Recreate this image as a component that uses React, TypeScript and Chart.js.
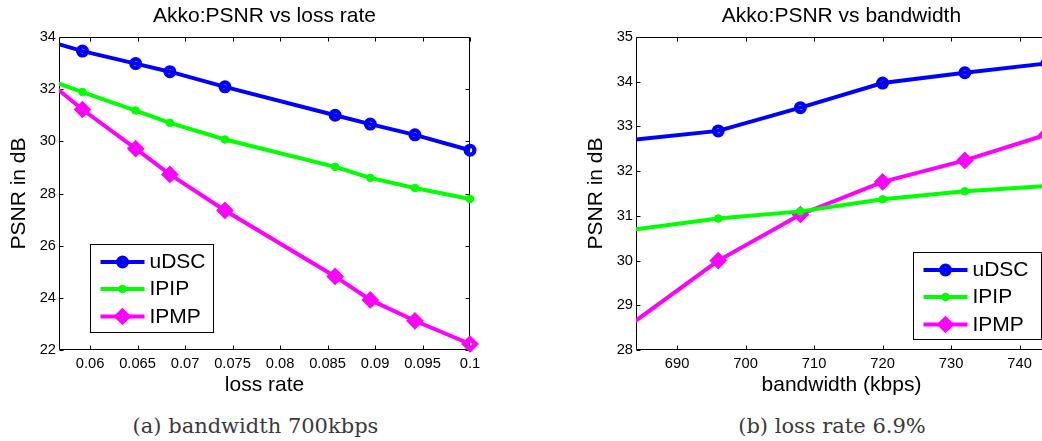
import React, { useEffect, useRef } from 'react';
import { Chart, registerables } from 'chart.js';

Chart.register(...registerables);

// ---------- data: chart (a) PSNR vs loss rate ----------
const lossRate = [0.05, 0.0592, 0.0648, 0.0684, 0.0742, 0.0858, 0.0895, 0.0942, 0.1];
const lossUDSC = [34.44, 33.46, 32.98, 32.67, 32.09, 31.0, 30.66, 30.25, 29.66];
const lossIPIP = [33.1, 31.89, 31.18, 30.71, 30.07, 29.02, 28.6, 28.21, 27.79];
const lossIPMP = [33.97, 31.22, 29.72, 28.73, 27.35, 24.82, 23.92, 23.12, 22.23];
const lossXTicks = [0.06, 0.065, 0.07, 0.075, 0.08, 0.085, 0.09, 0.095, 0.1];
const lossXTickLabels = ['0.06', '0.065', '0.07', '0.075', '0.08', '0.085', '0.09', '0.095', '0.1'];
const lossYTicks = [22, 24, 26, 28, 30, 32, 34];

// ---------- data: chart (b) PSNR vs bandwidth ----------
const bandwidth = [672, 696, 708, 720, 732, 744];
const bwUDSC = [32.52, 32.9, 33.42, 33.97, 34.2, 34.41];
const bwIPIP = [30.46, 30.94, 31.1, 31.37, 31.55, 31.67];
const bwIPMP = [27.32, 30.0, 31.03, 31.76, 32.24, 32.82];
const bwXTicks = [690, 700, 710, 720, 730, 740];
const bwXTickLabels = ['690', '700', '710', '720', '730', '740'];
const bwYTicks = [28, 29, 30, 31, 32, 33, 34, 35];

const seriesNames = ['uDSC', 'IPIP', 'IPMP'];

const SANS = "'Liberation Sans', Arial, sans-serif";

const seriesStyles = [
  { color: '#0000ff', pointStyle: 'circle', radius: 4.4, pbw: 4.2, fill: 'rgba(0,0,0,0)' },
  { color: '#00ff00', pointStyle: 'circle', radius: 3.8, pbw: 1, fill: '#00ff00' },
  { color: '#ff00ff', pointStyle: 'rectRot', radius: 5.6, pbw: 4.6, fill: 'rgba(0,0,0,0)' },
];

const toPoints = (xs: number[], ys: number[]) => xs.map((x, i) => ({ x, y: ys[i] }));

const makeDatasets = (xs: number[], series: number[][]) =>
  series.map((ys, i) => {
    const s = seriesStyles[i];
    return {
      label: seriesNames[i],
      data: toPoints(xs, ys),
      borderColor: s.color,
      backgroundColor: s.color,
      borderWidth: 4,
      pointStyle: s.pointStyle,
      pointRadius: s.radius,
      pointBorderWidth: s.pbw,
      pointBorderColor: s.color,
      pointBackgroundColor: s.fill,
      tension: 0,
      clip: { left: 0, top: 10, right: 10, bottom: 10 },
    };
  });

// MATLAB-like axes box with inward ticks on all four sides
const framePlugin = {
  id: 'matlabFrame',
  beforeDatasetsDraw(chart: any) {
    const { ctx, chartArea, scales } = chart;
    const L = Math.round(chartArea.left) + 0.5;
    const R = Math.round(chartArea.right) - 0.5;
    const T = Math.round(chartArea.top) + 0.5;
    const B = Math.round(chartArea.bottom) - 0.5;
    const tl = 4;
    ctx.save();
    ctx.strokeStyle = '#000';
    ctx.lineWidth = 1;
    ctx.beginPath();
    ctx.rect(L, T, R - L, B - T);
    scales.x.ticks.forEach((t: any) => {
      const px = Math.round(scales.x.getPixelForValue(t.value)) + 0.5;
      ctx.moveTo(px, B);
      ctx.lineTo(px, B - tl);
      ctx.moveTo(px, T);
      ctx.lineTo(px, T + tl);
    });
    scales.y.ticks.forEach((t: any) => {
      const py = Math.round(scales.y.getPixelForValue(t.value)) + 0.5;
      ctx.moveTo(L, py);
      ctx.lineTo(L + tl, py);
      ctx.moveTo(R, py);
      ctx.lineTo(R - tl, py);
    });
    ctx.stroke();
    ctx.restore();
  },
};

function drawMarker(ctx: CanvasRenderingContext2D, style: string, x: number, y: number, r: number) {
  ctx.beginPath();
  if (style === 'rectRot') {
    ctx.moveTo(x - r, y);
    ctx.lineTo(x, y - r);
    ctx.lineTo(x + r, y);
    ctx.lineTo(x, y + r);
    ctx.closePath();
  } else {
    ctx.arc(x, y, r, 0, Math.PI * 2);
  }
}

// MATLAB-like legend box (line + marker + label)
const legendPlugin = {
  id: 'matlabLegend',
  afterDatasetsDraw(chart: any, _args: any, opts: any) {
    const { ctx, chartArea } = chart;
    const x0 = Math.round(chartArea.left + opts.dx) + 0.5;
    const y0 = Math.round(chartArea.bottom - opts.dy) + 0.5;
    ctx.save();
    ctx.fillStyle = '#fff';
    ctx.fillRect(x0, y0, opts.w, opts.h);
    ctx.strokeStyle = '#000';
    ctx.lineWidth = 1;
    ctx.strokeRect(x0, y0, opts.w, opts.h);
    const rows = [17.5, 44.5, 72];
    chart.data.datasets.forEach((ds: any, i: number) => {
      const cy = y0 + rows[i];
      ctx.strokeStyle = ds.borderColor;
      ctx.lineWidth = ds.borderWidth;
      ctx.beginPath();
      ctx.moveTo(x0 + 10, cy);
      ctx.lineTo(x0 + 54, cy);
      ctx.stroke();
      drawMarker(ctx, ds.pointStyle, x0 + 32, cy, ds.pointRadius);
      ctx.fillStyle = ds.pointBackgroundColor;
      ctx.fill();
      ctx.lineWidth = ds.pointBorderWidth;
      ctx.strokeStyle = ds.pointBorderColor;
      ctx.stroke();
      ctx.fillStyle = '#000';
      ctx.font = `21px ${SANS}`;
      ctx.textBaseline = 'middle';
      ctx.textAlign = 'left';
      ctx.fillText(ds.label, x0 + 59, cy + 0.5);
    });
    ctx.restore();
  },
};

function makeConfig(p: {
  xs: number[];
  series: number[][];
  xMin: number;
  xMax: number;
  xTicks: number[];
  xTickLabels: string[];
  yMin: number;
  yMax: number;
  yTicks: number[];
  title: string;
  xTitle: string;
  yAxisWidth: number;
  yTitlePad: number;
  padRight: number;
  legend: { dx: number; dy: number; w: number; h: number };
}): any {
  return {
    type: 'line',
    data: { datasets: makeDatasets(p.xs, p.series) },
    plugins: [framePlugin, legendPlugin],
    options: {
      animation: false,
      responsive: false,
      events: [],
      layout: { padding: { left: 0, right: p.padRight, top: 0, bottom: 0 } },
      plugins: {
        legend: { display: false },
        tooltip: { enabled: false },
        title: {
          display: true,
          text: p.title,
          fullSize: false,
          color: '#000',
          font: { family: SANS, size: 21, weight: 'normal' },
          padding: { top: 4, bottom: 7.8 },
        },
        matlabLegend: p.legend,
      },
      scales: {
        x: {
          type: 'linear',
          min: p.xMin,
          max: p.xMax,
          afterBuildTicks: (s: any) => {
            s.ticks = p.xTicks.map((v) => ({ value: v }));
          },
          afterFit: (s: any) => {
            s.height = 50;
          },
          grid: { display: false, drawTicks: false },
          border: { display: false },
          ticks: {
            autoSkip: false,
            maxRotation: 0,
            padding: 5.5,
            color: '#000',
            font: { family: SANS, size: 14.7 },
            callback: (_v: any, i: number) => p.xTickLabels[i],
          },
          title: {
            display: true,
            text: p.xTitle,
            color: '#000',
            font: { family: SANS, size: 21 },
            padding: { top: 0, bottom: 2 },
          },
        },
        y: {
          type: 'linear',
          min: p.yMin,
          max: p.yMax,
          afterBuildTicks: (s: any) => {
            s.ticks = p.yTicks.map((v) => ({ value: v }));
          },
          afterFit: (s: any) => {
            s.width = p.yAxisWidth;
          },
          grid: { display: false, drawTicks: false },
          border: { display: false },
          ticks: {
            padding: 3,
            color: '#000',
            font: { family: SANS, size: 14.7 },
            callback: (v: any) => String(v),
          },
          title: {
            display: true,
            text: 'PSNR in dB',
            color: '#000',
            font: { family: SANS, size: 21 },
            padding: { top: p.yTitlePad, bottom: 0 },
          },
        },
      },
    },
  };
}

function ChartCanvas({ config, left, width, height }: { config: any; left: number; width: number; height: number }) {
  const ref = useRef<HTMLCanvasElement | null>(null);
  useEffect(() => {
    const chart = new Chart(ref.current as HTMLCanvasElement, config);
    return () => chart.destroy();
  }, []);
  return (
    <canvas
      ref={ref}
      width={width}
      height={height}
      style={{ position: 'absolute', left, top: 0, width, height, display: 'block' }}
    />
  );
}

const captionStyle: React.CSSProperties = {
  position: 'absolute',
  width: 400,
  textAlign: 'center',
  fontFamily: "'DejaVu Serif', 'Liberation Serif', serif",
  fontSize: 21,
  lineHeight: '24px',
  color: '#3a3a3a',
  whiteSpace: 'nowrap',
};

export default function App() {
  const configA = makeConfig({
    xs: lossRate,
    series: [lossUDSC, lossIPIP, lossIPMP],
    xMin: 0.05673,
    xMax: 0.1,
    xTicks: lossXTicks,
    xTickLabels: lossXTickLabels,
    yMin: 22,
    yMax: 34,
    yTicks: lossYTicks,
    title: 'Akko:PSNR vs loss rate',
    xTitle: 'loss rate',
    yAxisWidth: 59,
    yTitlePad: 7.1,
    padRight: 50,
    legend: { dx: 31, dy: 106, w: 123, h: 88 },
  });
  const configB = makeConfig({
    xs: bandwidth,
    series: [bwUDSC, bwIPIP, bwIPMP],
    xMin: 684,
    xMax: 744,
    xTicks: bwXTicks,
    xTickLabels: bwXTickLabels,
    yMin: 28,
    yMax: 35,
    yTicks: bwYTicks,
    title: 'Akko:PSNR vs bandwidth',
    xTitle: 'bandwidth (kbps)',
    yAxisWidth: 76,
    yTitlePad: 24.1,
    padRight: 13,
    legend: { dx: 277, dy: 98, w: 128, h: 87 },
  });
  return (
    <div
      style={{
        position: 'fixed',
        left: 0,
        top: 0,
        width: 1042,
        height: 441,
        overflow: 'hidden',
        background: '#fff',
      }}
    >
      <ChartCanvas config={configA} left={0} width={520} height={400} />
      <ChartCanvas config={configB} left={560} width={500} height={400} />
      <div style={{ ...captionStyle, left: 255.5 - 200, top: 414 }}>(a) bandwidth 700kbps</div>
      <div style={{ ...captionStyle, left: 832 - 200, top: 414 }}>(b) loss rate 6.9%</div>
    </div>
  );
}
